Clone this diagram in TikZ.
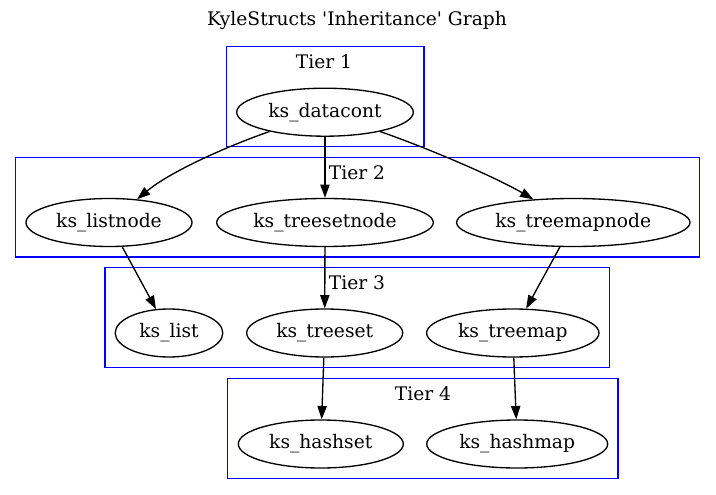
\documentclass[tikz,border=0pt]{standalone}
\usepackage{fontspec}
\newfontfamily\dvs{DejaVu Serif}
\usetikzlibrary{shapes.geometric,arrows.meta}
\definecolor{gvblue}{RGB}{0,0,255}
\begin{document}
\begin{tikzpicture}[x=1pt,y=-1pt,
  every node/.style={font=\dvs\fontsize{18.67}{22}\selectfont},
  nd/.style={draw=black,line width=1.33pt,ellipse,inner sep=0pt,minimum height=48pt},
  tierbox/.style={draw=gvblue,line width=1.33pt},
  tierlbl/.style={anchor=base,inner sep=0pt},
  edge/.style={draw=black,line width=1.33pt,-{Triangle[length=13.3pt,width=9.3pt]}}
]
\useasboundingbox (0,0) rectangle (716,495);
% title
\node[tierlbl] (title) at (357,26) {KyleStructs 'Inheritance' Graph};
% tier boxes
\draw[tierbox] (226.7,46.7) rectangle (424,146.7);
\draw[tierbox] (15.7,157.3) rectangle (699.7,257);
\draw[tierbox] (105,267.3) rectangle (609.3,367.7);
\draw[tierbox] (227.7,378.3) rectangle (618,478.3);
\node[tierlbl] (t1) at (324,68.3) {Tier 1};
\node[tierlbl] (t2) at (357,179) {Tier 2};
\node[tierlbl] (t3) at (357,289) {Tier 3};
\node[tierlbl] (t4) at (423,400) {Tier 4};
% nodes
\node[nd,minimum width=176.6pt] (dc) at (325,112.2) {ks\_datacont};
\node[nd,minimum width=166pt] (ln) at (109,222.5) {ks\_listnode};
\node[nd,minimum width=216.6pt] (tsn) at (325,222.5) {ks\_treesetnode};
\node[nd,minimum width=233.4pt] (tmn) at (573.3,222.5) {ks\_treemapnode};
\node[nd,minimum width=107.6pt] (li) at (169,333) {ks\_list};
\node[nd,minimum width=156pt] (ts) at (324.7,333) {ks\_treeset};
\node[nd,minimum width=172.4pt] (tm) at (512.8,333) {ks\_treemap};
\node[nd,minimum width=165pt] (hs) at (320.8,444) {ks\_hashset};
\node[nd,minimum width=181pt] (hm) at (517.2,444) {ks\_hashmap};
% edges
\draw[edge] (dc) .. controls (225,147) and (170,172) .. (ln);
\draw[edge] (dc) -- (tsn);
\draw[edge] (dc) .. controls (430,149) and (495,177) .. (tmn);
\draw[edge] (ln) -- (li);
\draw[edge] (tsn) -- (ts);
\draw[edge] (tmn) -- (tm);
\draw[edge] (ts) -- (hs);
\draw[edge] (tm) -- (hm);
\end{tikzpicture}
\end{document}
